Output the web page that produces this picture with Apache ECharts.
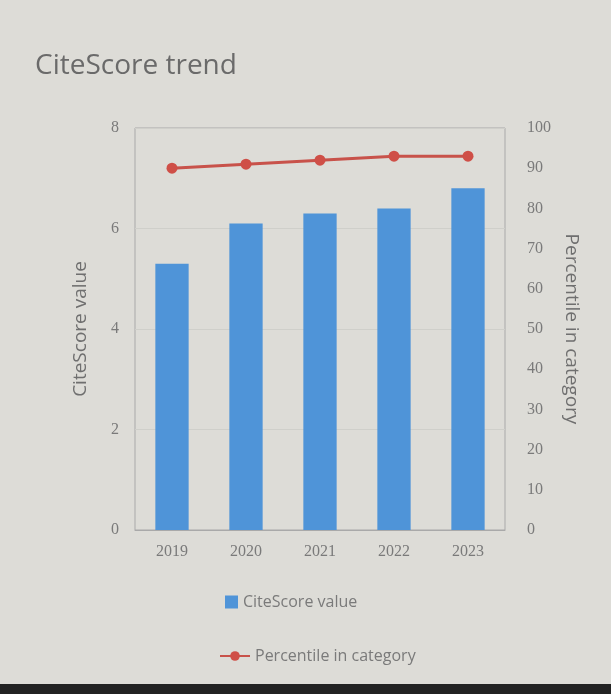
<!DOCTYPE html>
<html>
<head>
<meta charset="utf-8">
<script src="https://cdn.jsdelivr.net/npm/echarts@6/dist/echarts.min.js"></script>
<style>
  html, body { margin: 0; padding: 0; background: #dddcd7; }
  #chart { width: 611px; height: 694px; }
</style>
</head>
<body>
<div id="chart"></div>
<script>
var years = ['2019', '2020', '2021', '2022', '2023'];
var citeScore = [5.3, 6.1, 6.3, 6.4, 6.8];
var percentile = [90, 91, 92, 93, 93];

var chartDom = document.getElementById('chart');
var myChart = echarts.init(chartDom);
var option;

var tickFont = { color: '#7a7a7a', fontSize: 16, fontFamily: 'Liberation Serif' };

option = {
  backgroundColor: '#dddcd7',
  title: {
    text: 'CiteScore trend',
    left: 30,
    top: 47,
    textStyle: { color: '#6a6a6a', fontSize: 28, fontWeight: 'normal', fontFamily: 'Open Sans' }
  },
  legend: [
    {
      data: [{ name: 'CiteScore value', icon: 'rect' }],
      left: 220, top: 589,
      itemWidth: 13, itemHeight: 13,
      textStyle: { color: '#7a7a7a', fontSize: 16, fontFamily: 'Open Sans' }
    },
    {
      data: ['Percentile in category'],
      left: 214, top: 643,
      itemWidth: 30, itemHeight: 12,
      textStyle: { color: '#7a7a7a', fontSize: 16, fontFamily: 'Open Sans' }
    }
  ],
  grid: {
    left: 135, right: 106, top: 128, bottom: 164,
    show: true, borderColor: '#a9a9a9', borderWidth: 1
  },
  xAxis: {
    type: 'category',
    data: years,
    axisTick: { show: false },
    axisLine: { lineStyle: { color: '#a9a9a9' } },
    axisLabel: Object.assign({ margin: 14 }, tickFont)
  },
  yAxis: [
    {
      type: 'value', min: 0, max: 8, interval: 2,
      name: 'CiteScore value',
      nameLocation: 'middle', nameGap: 45,
      nameTextStyle: { color: '#6f6f6f', fontSize: 19, fontFamily: 'Open Sans' },
      axisLabel: Object.assign({ margin: 16 }, tickFont),
      splitLine: { lineStyle: { color: '#cfcfca' } }
    },
    {
      type: 'value', min: 0, max: 100, interval: 10,
      name: 'Percentile in category',
      nameLocation: 'middle', nameGap: 54, nameRotate: -90,
      nameTextStyle: { color: '#6f6f6f', fontSize: 19, fontFamily: 'Open Sans' },
      axisLabel: Object.assign({ margin: 22 }, tickFont),
      splitLine: { show: false }
    }
  ],
  series: [
    {
      name: 'CiteScore value',
      type: 'bar',
      data: citeScore,
      barWidth: '45%',
      itemStyle: { color: '#4f94d8' }
    },
    {
      name: 'Percentile in category',
      type: 'line',
      yAxisIndex: 1,
      data: percentile,
      symbol: 'circle',
      symbolSize: 11,
      lineStyle: { color: '#c8524a', width: 3 },
      itemStyle: { color: '#cf4f47' }
    }
  ],
  graphic: [
    { type: 'rect', left: 0, top: 684, shape: { width: 611, height: 10 }, style: { fill: '#222' } }
  ]
};

option && myChart.setOption(option);
</script>
</body>
</html>
